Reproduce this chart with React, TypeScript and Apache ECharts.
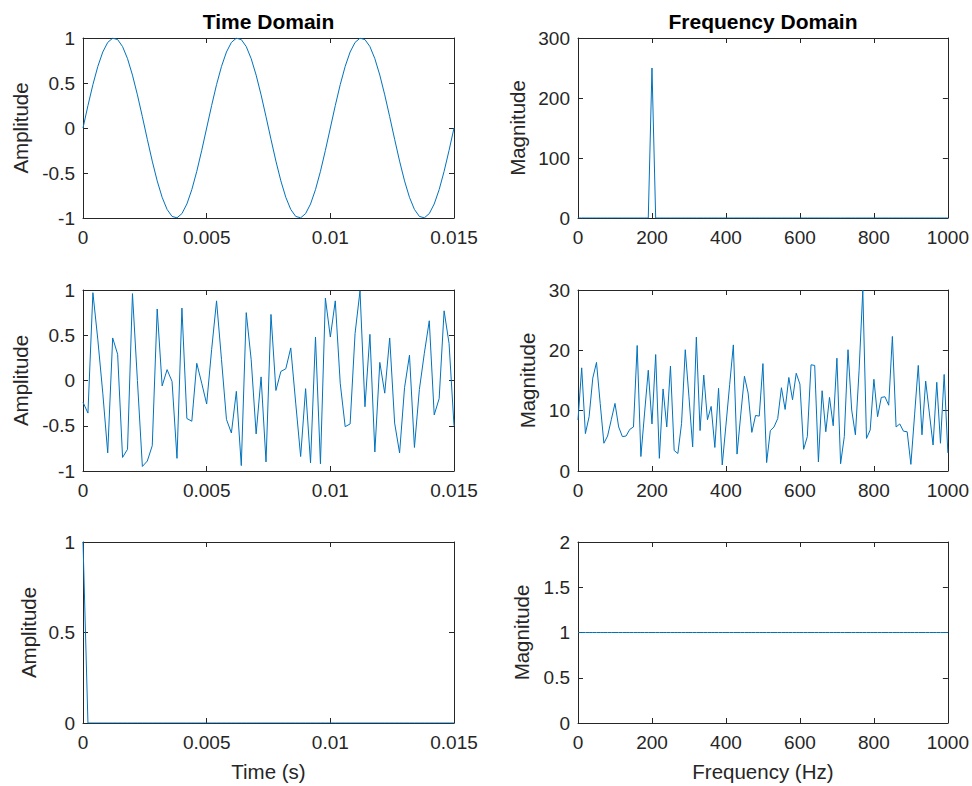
import { useEffect, useRef } from "react";
import * as echarts from "echarts";

// Sampling set-up: 5000 Hz, 500-point FFT (10 Hz bins)
const SAMPLE_RATE = 5000;
const BIN_HZ = 10;

// Row 1: pure 200 Hz sine, first 0.015 s (76 samples)
const sineSignal = [
  0, 0.2487, 0.4818, 0.6845, 0.8443, 0.9511, 0.998, 0.9823, 0.9048, 0.7705, 0.5878, 0.3681, 0.1253,
  -0.1253, -0.3681, -0.5878, -0.7705, -0.9048, -0.9823, -0.998, -0.9511, -0.8443, -0.6845, -0.4818, -0.2487,
  0, 0.2487, 0.4818, 0.6845, 0.8443, 0.9511, 0.998, 0.9823, 0.9048, 0.7705, 0.5878, 0.3681, 0.1253,
  -0.1253, -0.3681, -0.5878, -0.7705, -0.9048, -0.9823, -0.998, -0.9511, -0.8443, -0.6845, -0.4818, -0.2487,
  0, 0.2487, 0.4818, 0.6845, 0.8443, 0.9511, 0.998, 0.9823, 0.9048, 0.7705, 0.5878, 0.3681, 0.1253,
  -0.1253, -0.3681, -0.5878, -0.7705, -0.9048, -0.9823, -0.998, -0.9511, -0.8443, -0.6845, -0.4818, -0.2487,
  0,
];
const sinePeakHz = 200;
const sinePeakMagnitude = 250;

// Row 2: noise signal (76 samples) and its magnitude spectrum (0..1000 Hz, 101 bins)
const noiseSignal = [
  -0.24, -0.36, 0.97, 0.45, -0.14, -0.8, 0.47, 0.29, -0.85, -0.76, 0.96, 0.0, -0.95, -0.89, -0.72, 0.79,
  -0.06, 0.12, -0.01, -0.86, 0.8, -0.42, -0.45, 0.19, -0.03, -0.26, 0.34, 0.88, 0.23, -0.43, -0.58, -0.12,
  -0.94, 0.75, 0.23, -0.59, 0.04, -0.9, 0.73, -0.11, 0.1, 0.13, 0.36, -0.25, -0.84, -0.09, -0.91, 0.48,
  -0.92, 0.91, 0.48, 0.88, -0.03, -0.51, -0.48, 0.52, 0.99, -0.29, 0.51, -0.79, 0.2, -0.14, 0.47, -0.47,
  -0.8, -0.08, 0.28, -0.74, -0.1, 0.3, 0.66, -0.38, -0.2, 0.77, 0.41, -0.5,
];
const noiseSpectrum = [
  8.45, 17.1, 6.2, 9.0, 15.4, 18.0, 11.2, 4.6, 5.8, 8.5, 11.2, 7.3, 5.7, 5.8, 6.9, 7.3, 20.8, 2.4, 9.6, 16.7,
  7.8, 19.3, 2.1, 13.6, 7.3, 17.4, 3.4, 2.9, 7.9, 20.1, 12.3, 4.0, 22.2, 6.7, 15.9, 8.5, 10.7, 3.9, 13.7, 1.0,
  7.6, 14.3, 20.9, 2.8, 9.3, 15.7, 12.9, 6.4, 9.2, 9.1, 17.8, 1.4, 6.7, 7.3, 8.7, 13.8, 10.2, 15.5, 11.8, 16.2,
  14.4, 3.6, 5.7, 17.6, 17.5, 1.5, 13.3, 6.5, 12.2, 7.5, 18.7, 1.2, 5.7, 20.1, 10.1, 6.0, 16.7, 30.0, 5.4, 6.8,
  15.2, 9.0, 12.2, 12.3, 10.9, 22.3, 7.3, 7.8, 6.6, 6.5, 1.1, 9.3, 17.5, 6.0, 14.9, 9.6, 4.3, 14.7, 4.6, 16.0,
  3.0,
];

// Row 3: unit impulse and its flat spectrum
const impulseHeight = 1;
const impulseSamples = 76;
const flatMagnitude = 1;
const spectrumBins = 101;

// Axis ticks
const timeAxis = { min: 0, max: 0.015, interval: 0.005 };
const freqAxis = { min: 0, max: 1000, interval: 200 };

const titles = ["Time Domain", "Frequency Domain"];
const xNames = ["Time (s)", "Frequency (Hz)"];
const yNames = ["Amplitude", "Magnitude"];

const FONT = "'Liberation Sans', Arial, Helvetica, sans-serif";
const AX = "#262626";
const BLUE = "#0072BD";

const impulseSignal = Array.from({ length: impulseSamples }, (_, k) => (k === 0 ? impulseHeight : 0));
const impulseSpectrum = Array.from({ length: spectrumBins }, () => flatMagnitude);
const sineSpectrum = Array.from({ length: spectrumBins }, (_, j) =>
  j * BIN_HZ === sinePeakHz ? sinePeakMagnitude : 0
);

const timePairs = (vals: number[]) => vals.map((v, k) => [k / SAMPLE_RATE, v]);
const freqPairs = (vals: number[]) => vals.map((v, j) => [j * BIN_HZ, v]);

const fmt = (v: number) => String(parseFloat(Number(v).toFixed(4)));

type Panel = {
  grid: { left: number; top: number; width: number; height: number };
  x: { min: number; max: number; interval: number };
  y: { min: number; max: number; interval: number };
  xName?: string;
  yName: string;
  yNameGap: number;
  data: number[][];
};

export default function App() {
  const ref = useRef<HTMLDivElement>(null);

  useEffect(() => {
    if (!ref.current) return;
    const chart = echarts.init(ref.current, undefined, { renderer: "svg" });

    const L = { left: 83, width: 371 };
    const R = { left: 578, width: 370 };
    const rows = [
      { top: 38, height: 180 },
      { top: 290, height: 181 },
      { top: 542, height: 181 },
    ];

    const panels: Panel[] = [
      { grid: { ...L, ...rows[0] }, x: timeAxis, y: { min: -1, max: 1, interval: 0.5 }, yName: yNames[0], yNameGap: 52, data: timePairs(sineSignal) },
      { grid: { ...R, ...rows[0] }, x: freqAxis, y: { min: 0, max: 300, interval: 100 }, yName: yNames[1], yNameGap: 50, data: freqPairs(sineSpectrum) },
      { grid: { ...L, ...rows[1] }, x: timeAxis, y: { min: -1, max: 1, interval: 0.5 }, yName: yNames[0], yNameGap: 52, data: timePairs(noiseSignal) },
      { grid: { ...R, ...rows[1] }, x: freqAxis, y: { min: 0, max: 30, interval: 10 }, yName: yNames[1], yNameGap: 40, data: freqPairs(noiseSpectrum) },
      { grid: { ...L, ...rows[2] }, x: timeAxis, y: { min: 0, max: 1, interval: 0.5 }, xName: xNames[0], yName: yNames[0], yNameGap: 44, data: timePairs(impulseSignal) },
      { grid: { ...R, ...rows[2] }, x: freqAxis, y: { min: 0, max: 2, interval: 0.5 }, xName: xNames[1], yName: yNames[1], yNameGap: 46, data: freqPairs(impulseSpectrum) },
    ];

    const grid: any[] = [];
    const xAxis: any[] = [];
    const yAxis: any[] = [];
    const series: any[] = [];

    const lineAx = { show: true, onZero: false, lineStyle: { color: AX, width: 1 } };
    const tickAx = { show: true, inside: true, length: 5, lineStyle: { color: AX, width: 1 } };
    const labelStyle = { fontSize: 19, color: AX, fontFamily: FONT };
    const nameStyle = { fontSize: 20.5, color: AX, fontFamily: FONT };

    panels.forEach((p, i) => {
      grid.push({ ...p.grid, containLabel: false });
      xAxis.push({
        type: "value", gridIndex: i, position: "bottom", ...p.x,
        axisLine: lineAx, axisTick: tickAx, splitLine: { show: false },
        axisLabel: { ...labelStyle, margin: 10, formatter: fmt },
        name: p.xName || "", nameLocation: "middle", nameGap: 38, nameTextStyle: nameStyle,
      });
      xAxis.push({
        type: "value", gridIndex: i, position: "top", ...p.x,
        axisLine: lineAx, axisTick: tickAx, splitLine: { show: false },
        axisLabel: { show: false },
      });
      yAxis.push({
        type: "value", gridIndex: i, position: "left", ...p.y,
        axisLine: lineAx, axisTick: tickAx, splitLine: { show: false },
        axisLabel: { ...labelStyle, margin: 8, formatter: fmt },
        name: p.yName, nameLocation: "middle", nameGap: p.yNameGap, nameRotate: 90, nameTextStyle: nameStyle,
      });
      yAxis.push({
        type: "value", gridIndex: i, position: "right", ...p.y,
        axisLine: lineAx, axisTick: tickAx, splitLine: { show: false },
        axisLabel: { show: false },
      });
      series.push({
        type: "line", xAxisIndex: 2 * i, yAxisIndex: 2 * i, data: p.data,
        showSymbol: false, symbol: "none", lineStyle: { color: BLUE, width: 1 }, itemStyle: { color: BLUE },
        clip: true,
      });
    });

    const graphic = [
      { type: "text", x: L.left + L.width / 2, y: 21, style: { text: titles[0], font: `bold 21px ${FONT}`, fill: "#000", textAlign: "center", textVerticalAlign: "middle", align: "center", verticalAlign: "middle" } },
      { type: "text", x: R.left + R.width / 2, y: 21, style: { text: titles[1], font: `bold 21px ${FONT}`, fill: "#000", textAlign: "center", textVerticalAlign: "middle", align: "center", verticalAlign: "middle" } },
    ];

    chart.setOption({
      animation: false,
      backgroundColor: "#ffffff",
      textStyle: { fontFamily: FONT },
      grid, xAxis, yAxis, series, graphic,
    });

    return () => chart.dispose();
  }, []);

  return (
    <div
      ref={ref}
      style={{ position: "fixed", left: 0, top: 0, width: 972, height: 786, background: "#fff" }}
    />
  );
}
